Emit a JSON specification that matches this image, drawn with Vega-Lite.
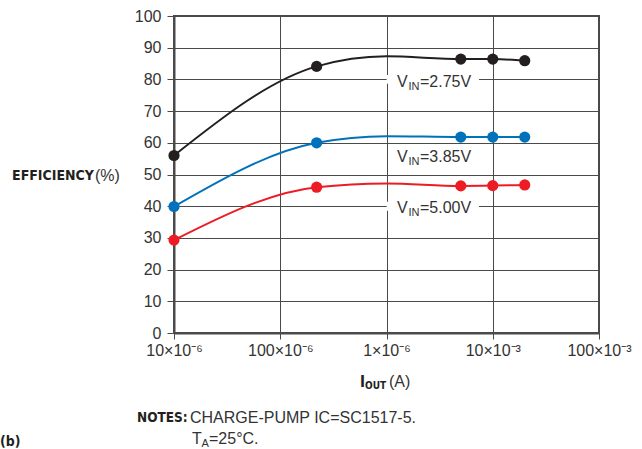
{
  "$schema": "https://vega.github.io/schema/vega-lite/v6.json",
  "width": 425,
  "height": 317,
  "autosize": "none",
  "padding": {"left": 174, "top": 16, "right": 43, "bottom": 116},
  "background": "white",
  "config": {
    "view": {"stroke": "#4a4a4a", "strokeWidth": 2},
    "font": "Liberation Sans",
    "text": {"font": "Liberation Sans", "fontSize": 16, "fill": "#333333"}
  },
  "resolve": {"axis": {"x": "independent", "y": "independent"}},
  "datasets": {
    "curves": [
      {"series": "2.75", "x": 0.00001, "y": 56.0, "marker": true},
      {"series": "2.75", "x": 0.00022, "y": 84.1, "marker": true},
      {"series": "2.75", "x": 0.001, "y": 87.3, "marker": false},
      {"series": "2.75", "x": 0.005, "y": 86.4, "marker": true},
      {"series": "2.75", "x": 0.01, "y": 86.4, "marker": true},
      {"series": "2.75", "x": 0.02, "y": 85.9, "marker": true},
      {"series": "3.85", "x": 0.00001, "y": 39.9, "marker": true},
      {"series": "3.85", "x": 0.00022, "y": 60.0, "marker": true},
      {"series": "3.85", "x": 0.001, "y": 62.1, "marker": false},
      {"series": "3.85", "x": 0.005, "y": 61.8, "marker": true},
      {"series": "3.85", "x": 0.01, "y": 61.8, "marker": true},
      {"series": "3.85", "x": 0.02, "y": 61.8, "marker": true},
      {"series": "5.00", "x": 0.00001, "y": 29.3, "marker": true},
      {"series": "5.00", "x": 0.00022, "y": 46.0, "marker": true},
      {"series": "5.00", "x": 0.001, "y": 47.2, "marker": false},
      {"series": "5.00", "x": 0.005, "y": 46.4, "marker": true},
      {"series": "5.00", "x": 0.01, "y": 46.5, "marker": true},
      {"series": "5.00", "x": 0.02, "y": 46.7, "marker": true}
    ],
    "one": [{}]
  },
  "layer": [
    {
      "data": {"name": "curves"},
      "mark": {"type": "line", "interpolate": "monotone", "strokeWidth": 2},
      "encoding": {
        "x": {
          "field": "x", "type": "quantitative",
          "scale": {"type": "log", "domain": [0.00001, 0.1], "nice": false},
          "axis": {
            "title": null,
            "values": [0.00001, 0.0001, 0.001, 0.01, 0.1],
            "labelExpr": "datum.value < 0.00005 ? '10×10⁻⁶' : datum.value < 0.0005 ? '100×10⁻⁶' : datum.value < 0.005 ? '1×10⁻⁶' : datum.value < 0.05 ? '10×10⁻³' : '100×10⁻³'",
            "labelFont": "Liberation Sans", "labelFontSize": 16, "labelColor": "#333333",
            "labelFlush": false, "labelOverlap": false, "labelPadding": 3,
            "grid": true, "gridColor": "#4a4a4a", "gridWidth": 1,
            "tickColor": "#4a4a4a", "tickSize": 6, "tickWidth": 1,
            "domainColor": "#4a4a4a", "domainWidth": 2
          }
        },
        "y": {
          "field": "y", "type": "quantitative",
          "scale": {"domain": [0, 100], "nice": false, "zero": false},
          "axis": {
            "title": null,
            "values": [0, 10, 20, 30, 40, 50, 60, 70, 80, 90, 100],
            "labelFont": "Liberation Sans", "labelFontSize": 16, "labelColor": "#333333",
            "labelPadding": 6, "labelOverlap": false, "labelFlush": false,
            "grid": true, "gridColor": "#4a4a4a", "gridWidth": 1,
            "tickColor": "#4a4a4a", "tickSize": 7, "tickWidth": 1,
            "domainColor": "#4a4a4a", "domainWidth": 2
          }
        },
        "color": {
          "field": "series", "type": "nominal",
          "scale": {"domain": ["2.75", "3.85", "5.00"], "range": ["#231f20", "#0072bc", "#ed1c24"]},
          "legend": null
        }
      }
    },
    {
      "data": {"name": "curves"},
      "transform": [{"filter": "datum.marker"}],
      "mark": {"type": "circle", "size": 125, "opacity": 1},
      "encoding": {
        "x": {"field": "x", "type": "quantitative", "axis": null},
        "y": {"field": "y", "type": "quantitative", "axis": null},
        "color": {"field": "series", "type": "nominal", "legend": null}
      }
    },
    {
      "data": {"name": "one"},
      "mark": {"type": "rect", "fill": "white"},
      "encoding": {
        "x": {"datum": 0.001004, "type": "quantitative", "axis": null},
        "x2": {"datum": 0.00742},
        "y": {"datum": 78.6, "type": "quantitative", "axis": null},
        "y2": {"datum": 81.4}
      }
    },
    {
      "data": {"name": "one"},
      "mark": {"type": "rect", "fill": "white"},
      "encoding": {
        "x": {"datum": 0.001004, "type": "quantitative", "axis": null},
        "x2": {"datum": 0.00742},
        "y": {"datum": 38.6, "type": "quantitative", "axis": null},
        "y2": {"datum": 41.4}
      }
    },
    {
      "data": {"name": "one"},
      "encoding": {"x": {"datum": 0.001256, "type": "quantitative", "axis": null}, "y": {"datum": 79.3, "type": "quantitative", "axis": null}},
      "layer": [
        {"mark": {"type": "text", "text": "V", "align": "left", "baseline": "middle"}},
        {"mark": {"type": "text", "text": "IN", "align": "left", "baseline": "middle", "fontSize": 11, "dx": 11.5, "dy": 5}},
        {"mark": {"type": "text", "text": "=2.75V", "align": "left", "baseline": "middle", "dx": 23}}
      ]
    },
    {
      "data": {"name": "one"},
      "encoding": {"x": {"datum": 0.001256, "type": "quantitative", "axis": null}, "y": {"datum": 55.4, "type": "quantitative", "axis": null}},
      "layer": [
        {"mark": {"type": "text", "text": "V", "align": "left", "baseline": "middle"}},
        {"mark": {"type": "text", "text": "IN", "align": "left", "baseline": "middle", "fontSize": 11, "dx": 11.5, "dy": 5}},
        {"mark": {"type": "text", "text": "=3.85V", "align": "left", "baseline": "middle", "dx": 23}}
      ]
    },
    {
      "data": {"name": "one"},
      "encoding": {"x": {"datum": 0.001256, "type": "quantitative", "axis": null}, "y": {"datum": 39.3, "type": "quantitative", "axis": null}},
      "layer": [
        {"mark": {"type": "text", "text": "V", "align": "left", "baseline": "middle"}},
        {"mark": {"type": "text", "text": "IN", "align": "left", "baseline": "middle", "fontSize": 11, "dx": 11.5, "dy": 5}},
        {"mark": {"type": "text", "text": "=5.00V", "align": "left", "baseline": "middle", "dx": 23}}
      ]
    },
    {
      "data": {"name": "one"},
      "encoding": {"x": {"datum": 2.99e-7, "type": "quantitative", "axis": null}, "y": {"datum": 49.5, "type": "quantitative", "axis": null}},
      "layer": [
        {"mark": {"type": "text", "text": "EFFICIENCY", "align": "left", "baseline": "middle", "font": "DejaVu Sans Condensed, Roboto, sans-serif", "fontWeight": "bold", "fontSize": 14, "fill": "#231f20"}},
        {"mark": {"type": "text", "text": "(%)", "align": "left", "baseline": "middle", "dx": 83}}
      ]
    },
    {
      "data": {"name": "one"},
      "encoding": {"x": {"datum": 0.000563, "type": "quantitative", "axis": null}, "y": {"datum": -15.5, "type": "quantitative", "axis": null}},
      "layer": [
        {"mark": {"type": "text", "text": "I", "align": "left", "baseline": "middle", "font": "DejaVu Sans Condensed, Roboto, sans-serif", "fontWeight": "bold", "fontSize": 15, "fill": "#231f20"}},
        {"mark": {"type": "text", "text": "OUT", "align": "left", "baseline": "middle", "font": "DejaVu Sans Condensed, Roboto, sans-serif", "fontWeight": "bold", "fontSize": 10, "dx": 5, "dy": 4, "fill": "#231f20"}},
        {"mark": {"type": "text", "text": "(A)", "align": "left", "baseline": "middle", "dx": 29}}
      ]
    },
    {
      "data": {"name": "one"},
      "encoding": {"x": {"datum": 4.486e-6, "type": "quantitative", "axis": null}, "y": {"datum": -26.8, "type": "quantitative", "axis": null}},
      "layer": [
        {"mark": {"type": "text", "text": "NOTES:", "align": "left", "baseline": "middle", "font": "DejaVu Sans Condensed, Roboto, sans-serif", "fontWeight": "bold", "fontSize": 13.5, "fill": "#231f20"}},
        {"mark": {"type": "text", "text": "CHARGE-PUMP IC=SC1517-5.", "align": "left", "baseline": "middle", "dx": 53}}
      ]
    },
    {
      "data": {"name": "one"},
      "encoding": {"x": {"datum": 1.477e-5, "type": "quantitative", "axis": null}, "y": {"datum": -33.4, "type": "quantitative", "axis": null}},
      "layer": [
        {"mark": {"type": "text", "text": "T", "align": "left", "baseline": "middle"}},
        {"mark": {"type": "text", "text": "A", "align": "left", "baseline": "middle", "fontSize": 11, "dx": 9.5, "dy": 5}},
        {"mark": {"type": "text", "text": "=25°C.", "align": "left", "baseline": "middle", "dx": 17}}
      ]
    },
    {
      "data": {"name": "one"},
      "mark": {"type": "text", "text": "(b)", "align": "left", "baseline": "middle", "font": "DejaVu Sans Condensed, Roboto, sans-serif", "fontWeight": "bold", "fontSize": 14, "fill": "#231f20"},
      "encoding": {"x": {"datum": 2.3e-7, "type": "quantitative", "axis": null}, "y": {"datum": -34.4, "type": "quantitative", "axis": null}}
    }
  ]
}
